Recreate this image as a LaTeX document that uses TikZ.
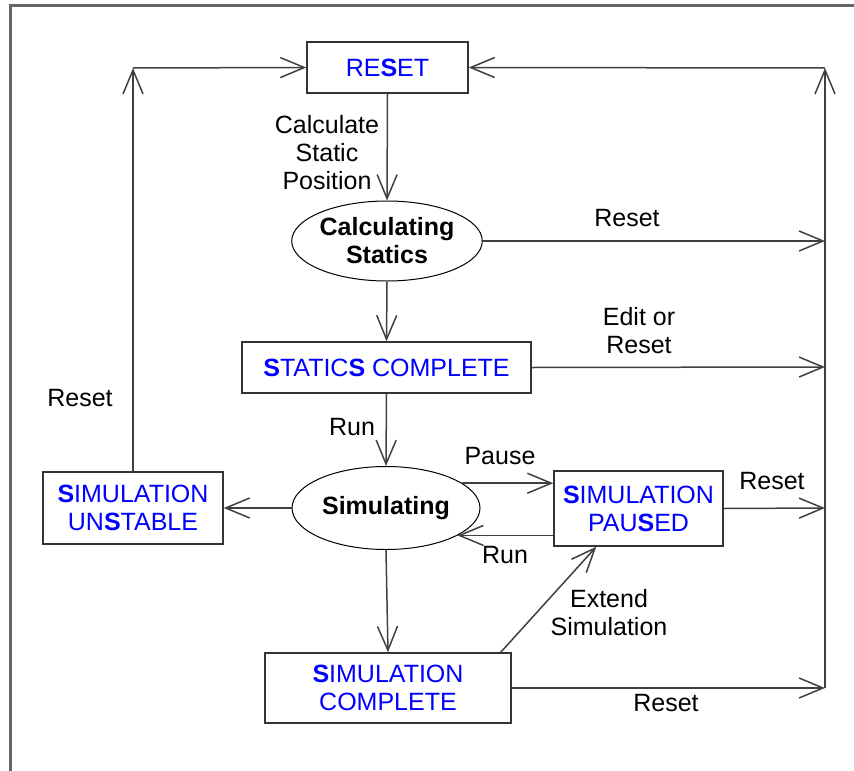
\documentclass[tikz,border=0pt]{standalone}
\usepackage{fontspec}
\setmainfont{Liberation Sans}
\usetikzlibrary{arrows.meta,shapes.geometric,calc}
\newcommand{\bS}{\textbf{S}}
\begin{document}
\begin{tikzpicture}[x=1pt,y=-1pt,
  every node/.style={font=\fontsize{25}{28}\selectfont},
  box/.style={draw=black!80, line width=1.5pt, text=blue, align=center, inner sep=0pt, fill=white},
  oval/.style={ellipse, draw=black, line width=1pt, font=\fontsize{25}{28}\selectfont\bfseries, align=center, inner sep=0pt},
  lbl/.style={align=center, inner sep=0pt},
  arr/.style={draw=black!75, line width=1.5pt, -{Straight Barb[length=24pt,width=20pt]}},
  ln/.style={draw=black!75, line width=1.5pt},
  frame/.style={draw=black!60, line width=3pt}]
\useasboundingbox (0,0) rectangle (854,771);
\draw[frame] (10,771) -- (10,5.5) -- (854,5.5);

% states
\node[box, minimum width=161pt, minimum height=51pt] (reset) at (387.5,67.5) {RE\bS ET};
\node[oval, minimum width=188pt, minimum height=80pt] (calc) at (387,241) {Calculating\\\bS tatics};
\node[box, minimum width=289pt, minimum height=51pt] (stat) at (386.5,367.5) {\bS TATIC\bS{} COMPLETE};
\node[oval, minimum width=188pt, minimum height=83pt] (sim) at (386,508) {Simulating};
\node[box, minimum width=180pt, minimum height=72pt] (unst) at (133,508) {\bS IMULATION\\UN\bS TABLE};
\node[box, minimum width=169pt, minimum height=75pt] (paus) at (638.5,508.5) {\bS IMULATION\\PAU\bS ED};
\node[box, minimum width=246pt, minimum height=70pt] (comp) at (388,688) {\bS IMULATION\\COMPLETE};

% bus corners and ends
\coordinate (tl) at (133,68);
\coordinate (tr) at (825,68);
\coordinate (r1) at (825,241);
\coordinate (r2) at (825,367);
\coordinate (r3) at (825,508);
\coordinate (r4) at (825,688);

% connectors
\draw[arr] (unst.north) -- (tl);
\draw[arr] (tl) -- (reset.west);
\draw[arr] (r4) -- (tr);
\draw[arr] (tr) -- (reset.east);
\draw[arr] (reset.south) -- (calc.north);
\draw[arr] (calc.east) -- (r1);
\draw[arr] (calc.south) -- (stat.north);
\draw[arr] (stat.east) -- (r2);
\draw[arr] (stat.south) -- (sim.north);
\draw[arr] (sim.west) -- (unst.east);
\draw[arr] (sim.18) -- (sim.18 -| paus.west);
\draw[arr] (sim.-21 -| paus.west) -- (sim.-21);
\draw[arr] (paus.east) -- (r3);
\draw[arr] (sim.south) -- (comp.north);
\draw[arr] ([xshift=-11pt]comp.north east) -- ([xshift=43pt]paus.south west);
\draw[arr] (comp.east) -- (r4);

% labels
\node[lbl] (l1) at (327,153) {Calculate\\Static\\Position};
\node[lbl] (l2) at (627,218) {Reset};
\node[lbl] (l3) at (639,331) {Edit or\\Reset};
\node[lbl] (l4) at (80,398) {Reset};
\node[lbl] (l5) at (352,427) {Run};
\node[lbl] (l6) at (500,456) {Pause};
\node[lbl] (l7) at (505,555) {Run};
\node[lbl] (l8) at (772,481) {Reset};
\node[lbl] (l9) at (609,613) {Extend\\Simulation};
\node[lbl] (l10) at (666,703) {Reset};
\end{tikzpicture}
\end{document}
